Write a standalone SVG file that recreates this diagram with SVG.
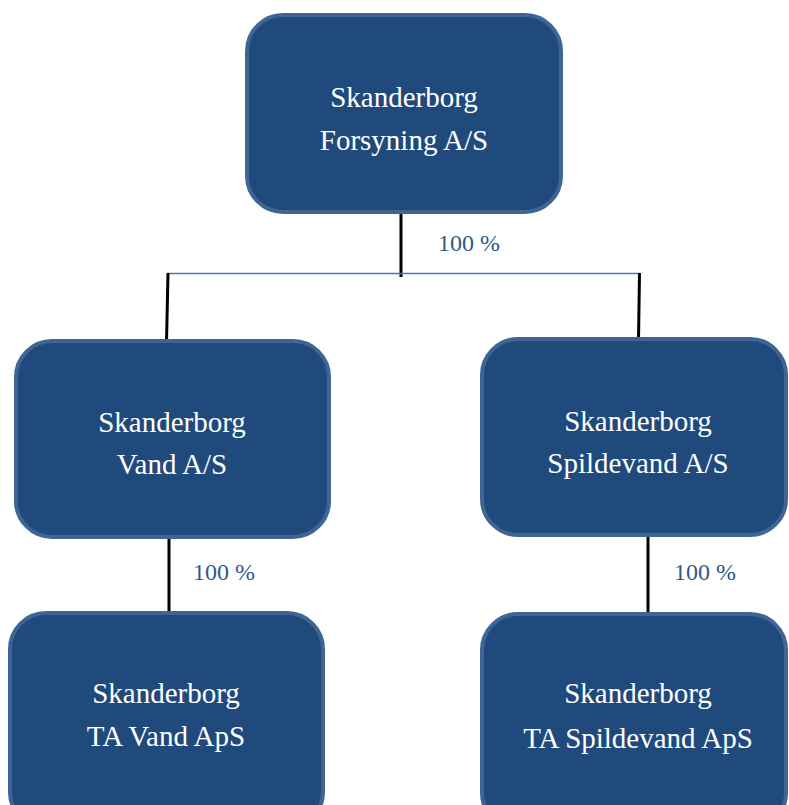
<svg xmlns="http://www.w3.org/2000/svg" width="789" height="805" viewBox="0 0 789 805">
<style>
.box{fill:#214a7c;stroke:#3f6595;stroke-width:4}
text{font-family:'Liberation Serif','DejaVu Serif',serif}
.t{font-size:29px;fill:#ffffff;text-anchor:middle}
.p{font-size:24px;fill:#2f5a8c}
.k{stroke:#000;stroke-width:3;fill:none}
</style>
<rect width="789" height="805" fill="#fff"/>
<g id="connectors">
<line class="k" x1="401" y1="212" x2="401" y2="277"/>
<line x1="167" y1="273.5" x2="640" y2="273.5" stroke="#4a7ab5" stroke-width="1.5"/>
<line class="k" x1="168" y1="273" x2="166.5" y2="342" stroke-width="2.2"/>
<line class="k" x1="639.5" y1="273" x2="638.5" y2="340" stroke-width="2.2"/>
<line class="k" x1="169" y1="539" x2="169" y2="614"/>
<line class="k" x1="648" y1="536" x2="648" y2="615"/>
<text class="p" x="438" y="251">100 %</text>
<text class="p" x="193" y="580">100 %</text>
<text class="p" x="674" y="580">100 %</text>
</g>
<g id="n1">
<rect class="box" x="247" y="15" width="314" height="197" rx="36"/>
<text class="t" x="404" y="107">Skanderborg</text>
<text class="t" x="404" y="150">Forsyning A/S</text>
</g>
<g id="n2">
<rect class="box" x="16" y="341" width="313" height="196" rx="36"/>
<text class="t" x="172" y="432">Skanderborg</text>
<text class="t" x="172" y="474">Vand A/S</text>
</g>
<g id="n3">
<rect class="box" x="482" y="339" width="304" height="196" rx="36"/>
<text class="t" x="638" y="431">Skanderborg</text>
<text class="t" x="638" y="473">Spildevand A/S</text>
</g>
<g id="n4">
<rect class="box" x="10" y="613" width="313" height="215" rx="36"/>
<text class="t" x="166" y="703">Skanderborg</text>
<text class="t" x="166" y="746">TA Vand ApS</text>
</g>
<g id="n5">
<rect class="box" x="482" y="614" width="304" height="215" rx="36"/>
<text class="t" x="638" y="703">Skanderborg</text>
<text class="t" x="638" y="748">TA Spildevand ApS</text>
</g>
</svg>
